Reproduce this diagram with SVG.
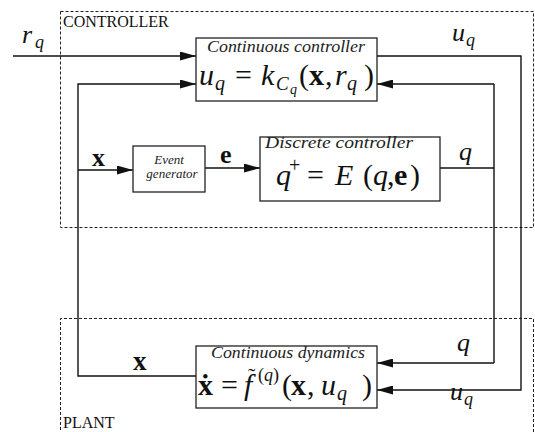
<svg xmlns="http://www.w3.org/2000/svg" width="535" height="432" viewBox="0 0 535 432">
<style>
.zone{fill:none;stroke:#222;stroke-width:1;stroke-dasharray:3,2}
.box{fill:#fff;stroke:#222;stroke-width:1.3}
.wire{fill:none;stroke:#111;stroke-width:1.4}
.zl{font-family:"Liberation Serif","DejaVu Serif",serif;font-size:16px;fill:#111}
.it{font-family:"Liberation Serif","DejaVu Serif",serif;font-style:italic;fill:#222}
.m{font-family:"Liberation Serif","DejaVu Serif",serif;font-style:italic;fill:#111}
.up{font-style:normal}
.b{font-style:normal;font-weight:bold}
</style>
<defs>
<marker id="ah" markerUnits="userSpaceOnUse" markerWidth="17" markerHeight="9" refX="16" refY="4.5" orient="auto">
<path d="M0,0 L16,4.5 L0,9 z" fill="#111"/>
</marker>
</defs>
<g id="controller-zone">
<rect class="zone" x="60.5" y="11.5" width="473" height="216"/>
<text class="zl" x="63" y="27">CONTROLLER</text>
</g>
<g id="plant-zone">
<path class="zone" d="M60.5,440 V318.5 H533.5 V440"/>
<text class="zl" x="63" y="428">PLANT</text>
</g>
<g id="connectors">
<path class="wire" d="M13,56 H196" marker-end="url(#ah)"/>
<path class="wire" d="M196,376 H78 V84 H196" marker-end="url(#ah)"/>
<path class="wire" d="M78,170 H133" marker-end="url(#ah)"/>
<path class="wire" d="M205,168 H260" marker-end="url(#ah)"/>
<path class="wire" d="M377,56 H521 V390 H377" marker-end="url(#ah)"/>
<path class="wire" d="M440,168 H494"/>
<path class="wire" d="M494,84 V363"/>
<path class="wire" d="M494,84 H377" marker-end="url(#ah)"/>
<path class="wire" d="M494,363 H377" marker-end="url(#ah)"/>
<text class="m" font-size="26" x="22" y="43">r<tspan font-size="18" x="35" y="48">q</tspan></text>
<text class="m" font-size="26" x="452" y="41">u<tspan font-size="18" x="466" y="46">q</tspan></text>
<text class="m b" font-size="26" x="92" y="166">x</text>
<text class="m b" font-size="26" x="220" y="163">e</text>
<text class="m" font-size="26" x="459" y="160">q</text>
<text class="m" font-size="26" x="457" y="351">q</text>
<text class="m b" font-size="27" x="133" y="370">x</text>
<text class="m" font-size="26" x="450" y="400">u<tspan font-size="18" x="464" y="405">q</tspan></text>
</g>
<g id="continuous-controller">
<rect class="box" x="196" y="38" width="181" height="63"/>
<text class="it" font-size="16" x="207" y="52" textLength="158" lengthAdjust="spacingAndGlyphs">Continuous controller</text>
<text class="m" font-size="30" y="85"><tspan x="199">u</tspan><tspan font-size="20" x="215" y="90">q</tspan><tspan class="up" x="235" y="85">=</tspan><tspan x="261">k</tspan><tspan font-size="19" x="276" y="90">C</tspan><tspan font-size="14" x="290" y="94">q</tspan><tspan class="up" x="299" y="85">(</tspan><tspan class="b" x="309">x</tspan><tspan class="up" x="325">,</tspan><tspan x="335">r</tspan><tspan font-size="20" x="347" y="90">q</tspan><tspan class="up" x="364" y="85">)</tspan></text>
</g>
<g id="event-generator">
<rect class="box" x="133" y="146" width="72" height="46"/>
<text class="it" font-size="13" x="169" y="164" text-anchor="middle">Event</text>
<text class="it" font-size="13" x="172" y="178" text-anchor="middle">generator</text>
</g>
<g id="discrete-controller">
<rect class="box" x="260" y="137" width="180" height="64"/>
<text class="it" font-size="16" x="265" y="148" textLength="148" lengthAdjust="spacingAndGlyphs">Discrete controller</text>
<text class="m" font-size="30" y="185"><tspan x="276">q</tspan><tspan class="up" font-size="20" x="289" y="172">+</tspan><tspan class="up" x="307" y="185">=</tspan><tspan x="335">E</tspan><tspan class="up" x="363">(</tspan><tspan x="373">q</tspan><tspan class="up" x="387">,</tspan><tspan class="b" x="394">e</tspan><tspan class="up" x="410">)</tspan></text>
</g>
<g id="continuous-dynamics">
<rect class="box" x="196" y="346" width="181" height="62"/>
<text class="it" font-size="16" x="211" y="358" textLength="154" lengthAdjust="spacingAndGlyphs">Continuous dynamics</text>
<text class="m" font-size="30" y="395"><tspan class="b" x="198">ẋ</tspan><tspan class="up" x="221">=</tspan><tspan x="244">f</tspan><tspan class="up" font-size="22" x="248" y="383">˜</tspan><tspan class="up" font-size="18" x="258" y="381">(</tspan><tspan font-size="18" x="264">q</tspan><tspan class="up" font-size="18" x="273">)</tspan><tspan class="up" x="282" y="395">(</tspan><tspan class="b" x="291">x</tspan><tspan class="up" x="307">,</tspan><tspan x="321">u</tspan><tspan font-size="20" x="337" y="400">q</tspan><tspan class="up" x="362" y="395">)</tspan></text>
</g>
</svg>
